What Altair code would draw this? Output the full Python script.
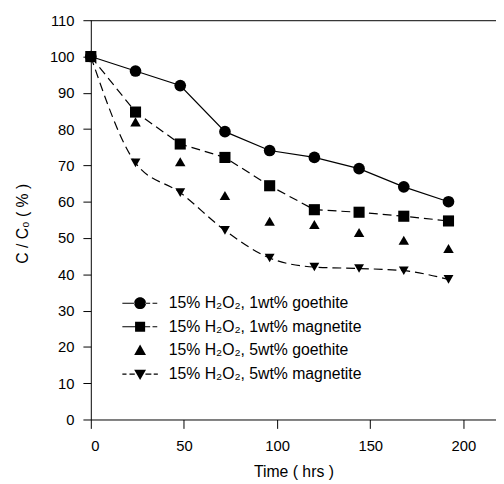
import altair as alt
import pandas as pd

# ---- data ----
time_hrs = [0, 24, 48, 72, 96, 120, 144, 168, 192]
goethite_1wt = [100, 96, 92, 79.3, 74.1, 72.2, 69.1, 64.1, 60.0]
magnetite_1wt = [100, 84.7, 75.9, 72.2, 64.4, 57.8, 57.1, 56.0, 54.7]
goethite_5wt = [100, 82.0, 71.0, 61.7, 54.6, 53.7, 51.5, 49.4, 47.1]
magnetite_5wt = [100, 70.7, 62.5, 52.1, 44.5, 42.0, 41.6, 41.0, 38.6]

series_names = [
    "15% H₂O₂, 1wt% goethite",
    "15% H₂O₂, 1wt% magnetite",
    "15% H₂O₂, 5wt% goethite",
    "15% H₂O₂, 5wt% magnetite",
]
x_ticks = [0, 50, 100, 150, 200]
y_ticks = [0, 10, 20, 30, 40, 50, 60, 70, 80, 90, 100, 110]

rows = []
for name, vals in zip(series_names, [goethite_1wt, magnetite_1wt, goethite_5wt, magnetite_5wt]):
    for t, v in zip(time_hrs, vals):
        rows.append({"time": t, "value": v, "series": name})
df = pd.DataFrame(rows)

W, H = 411, 405
FONT = "Liberation Sans"

x_enc = alt.X(
    "time:Q",
    scale=alt.Scale(domain=[0, 217.5], nice=False, zero=False),
    axis=alt.Axis(values=x_ticks, title="Time ( hrs )", tickSize=9, labelPadding=10,
                  titleY=58, titleBaseline="alphabetic"),
)
y_enc = alt.Y(
    "value:Q",
    scale=alt.Scale(domain=[0, 110], nice=False),
    axis=alt.Axis(values=y_ticks, title="C / C₀ ( % )", tickSize=8, labelPadding=9,
                  titleX=-64, titleY=206, titleBaseline="alphabetic"),
)

base = alt.Chart(df)

line_g1 = base.transform_filter(alt.datum.series == series_names[0]).mark_line(
    color="black", strokeWidth=1.2
).encode(x=x_enc, y=y_enc)

line_m1 = base.transform_filter(alt.datum.series == series_names[1]).mark_line(
    color="black", strokeWidth=1.2, strokeDash=[9, 5]
).encode(x=x_enc, y=y_enc)

line_m5 = base.transform_filter(alt.datum.series == series_names[3]).mark_line(
    color="black", strokeWidth=1.2, strokeDash=[9, 5], interpolate="monotone"
).encode(x=x_enc, y=y_enc)

points = base.mark_point(filled=True, color="black", opacity=1).encode(
    x=x_enc,
    y=y_enc,
    shape=alt.Shape("series:N",
                    scale=alt.Scale(domain=series_names,
                                    range=["circle", "square", "triangle-up", "triangle-down"]),
                    legend=None),
    size=alt.Size("series:N",
                  scale=alt.Scale(domain=series_names, range=[140, 100, 120, 120]),
                  legend=None),
)

# legend symbols: marker with line segments through it
bar = lambda a, b: f"M{a},-0.09H{b}V0.09H{a}Z"
circle = "M-1,0A1,1,0,1,0,1,0A1,1,0,1,0,-1,0Z"
square = "M-0.85,-0.85H0.85V0.85H-0.85Z"
tri_up = "M0,-1L1,0.75L-1,0.75Z"
tri_down = "M-1,-0.75H1L0,1Z"
legend_paths = [
    bar(-3, -0.9) + circle + bar(0.9, 1.7) + bar(2.1, 2.9),
    bar(-3, -0.8) + square + bar(0.8, 1.7) + bar(2.1, 2.9),
    tri_up,
    bar(-3, -2.3) + bar(-1.8, -0.9) + tri_down + bar(0.9, 1.9) + bar(2.3, 3.0),
]

legend_layer = base.mark_point(filled=True, color="black", opacity=0).encode(
    x=x_enc,
    y=y_enc,
    shape=alt.Shape(
        "series:N",
        scale=alt.Scale(domain=series_names, range=legend_paths),
        legend=alt.Legend(
            title=None, orient="none", legendX=42, legendY=279,
            symbolSize=144, symbolOpacity=1, symbolFillColor="black",
            symbolStrokeColor="black", symbolStrokeWidth=0,
            labelFont=FONT, labelFontSize=16, labelColor="black", labelLimit=0,
            labelOffset=21, rowPadding=8, padding=0,
        ),
    ),
)

top_line = alt.Chart(pd.DataFrame({"frame": ["top"]})).mark_rule(
    color="black", strokeWidth=1
).encode(x=alt.value(0), x2=alt.value(W), y=alt.value(0.5))

chart = alt.layer(
    top_line, line_g1, line_m1, line_m5, points, legend_layer
).resolve_scale(shape="independent", size="independent").properties(
    width=W, height=H,
    autosize=alt.AutoSizeParams(type="none"),
    padding={"left": 84, "top": 9, "right": 0, "bottom": 60},
).configure_view(stroke=None).configure_axis(
    grid=False, domainColor="black", tickColor="black", domainWidth=1, tickWidth=1,
    labelFont=FONT, labelFontSize=15, labelColor="black",
    titleFont=FONT, titleFontSize=16, titleFontWeight="normal", titleColor="black",
)

chart.save("out.html", embed_options={"renderer": "svg", "actions": False})
